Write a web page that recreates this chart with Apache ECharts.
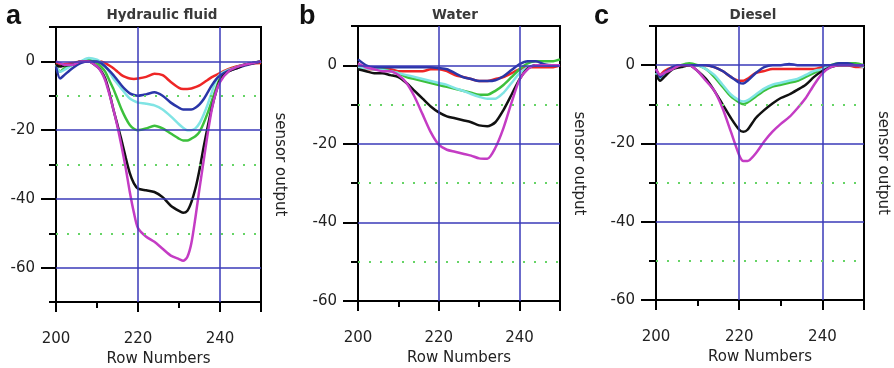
<!DOCTYPE html>
<html><head><meta charset="utf-8">
<script src="https://cdn.jsdelivr.net/npm/echarts@6/dist/echarts.min.js"></script>
<style>html,body{margin:0;padding:0;background:#fff}#c{width:894px;height:368px}</style>
</head><body><div id="c"></div>
<script>
// ---------- data ----------
const panelLetters = ['a', 'b', 'c'];
const panelTitles = ['Hydraulic fluid', 'Water', 'Diesel'];
const xTickLabels = [200, 220, 240];
const yTickLabels = [0, -20, -40, -60];
const xName = 'Row Numbers';
const yName = 'sensor output';
const blueGridY = [0, -20, -40, -60];
const blueGridX = [220, 240];
const greenGridY = [-10, -30, -50];

// Panel a: Hydraulic fluid
const rowsA = [200,201,202,204,206,208,210,211,212,213,214,215,216,217,218,219,220,222,224,226,228,230,231,232,233,234,235,236,237,238,239,240,242,244,246,248,250];
const redA = [-0.5,-1,-0.8,-0.5,0,0,0, 0,-0.5,-1.2,-2,-3,-4,-4.6,-5,-5.1, -5,-4.5,-3.6,-4,-6,-7.7, -8,-8,-7.9,-7.5,-7,-6.2,-5.4,-4.6,-4, -3.4,-2.3,-1.5,-1,-0.6,-0.5];
const blueA = [-1.5,-5,-4,-2,-0.5,0,0, -0.5,-1.5,-2.7,-4,-5.5,-7,-8.3,-9.3,-9.8, -10,-9.6,-9,-10,-12,-13.5, -14,-14,-14,-13.5,-12.5,-11,-9,-7,-5.3, -4.2,-2.8,-2,-1.2,-0.6,0];
const cyanA = [-1,-3,-2.5,-1,0,1,0.5, -0.3,-1.5,-3,-5,-6.5,-8,-9.5,-10.8,-11.5, -12,-12.3,-12.8,-14,-16,-18.3, -19.3,-20,-20,-19.5,-18,-15.5,-12.5,-9,-5.5, -3.8,-2.5,-1.8,-1,-0.5,0];
const greenA = [-1,-3,-2,-1,0,0.5,-0.5, -1.5,-3,-5.5,-8,-11,-14,-16.5,-18.5,-19.6, -20,-19.5,-18.7,-19.5,-21,-22.5, -23,-23,-22.5,-21.8,-20.5,-18,-15,-11.5,-8, -5,-2.8,-1.7,-1,-0.5,0];
const blackA = [-1,-1.5,-1.2,-1,0,0,-1.5, -2.8,-5,-9,-14,-18.5,-23,-28,-32.5,-35.5, -37,-37.5,-38,-39.5,-42,-43.5, -44,-43.5,-41,-37,-31.5,-25,-19,-13.5,-9, -5.5,-3,-2,-1,-0.5,0];
const magentaA = [0,-0.5,-1,-1,0,0,-1.5, -3,-5.5,-9.5,-14,-19,-24.8,-31,-38,-44, -48.5,-51,-52.5,-54.5,-56.5,-57.5, -58,-57,-53,-45.5,-37,-29,-21,-14,-9, -6,-3,-1.7,-1,-0.5,0];

// Panel b: Water
const rowsB = [200,202,204,206,208,210,212,214,216,218,220,222,224,226,228,230,232,234,236,238,240,242,244,246,248,250];
const redB = [0,-1,-1,-1,-1,-1.5,-1.5,-1.5,-1.5,-1,-1,-1.5,-2.5,-3,-3.5,-4,-4,-3.5,-3,-2,-1,-0.5,-0.5,-0.5,-0.5,0];
const blueB = [1.5,0,-0.5,-0.5,-0.5,-0.5,-0.5,-0.5,-0.5,-0.5,-0.7,-1,-2,-3,-3.5,-4,-4,-3.8,-2.8,-1.2,0.3,1,1,0.3,0,0];
const greenB = [0,-0.5,-1,-1,-1.5,-2,-3,-3.5,-4,-4.5,-5,-5.5,-6,-6.5,-7,-7.5,-7.5,-6.5,-5,-3,-1,0.5,1,1,1,1.5];
const cyanB = [-0.5,-0.8,-1,-1.2,-1.5,-2,-2.5,-3,-3.5,-4,-4.5,-5,-5.8,-6.5,-7.3,-8,-8.5,-8.5,-7,-4.5,-2,-0.5,0,0,0,0];
const blackB = [-1,-1.5,-2,-2,-2.5,-3,-4.5,-6.5,-8.5,-10.5,-12,-13,-13.5,-14,-14.5,-15.3,-15.5,-14.5,-11.4,-7.5,-3.5,-0.8,0,0,0,0];
const magentaB = [0.5,-0.5,-1,-1.5,-1.5,-2.5,-4.5,-8,-12.5,-17,-20.2,-21.5,-22,-22.5,-23,-23.7,-23.8,-21,-16,-9.5,-3.6,-1,0,0,0,0];

// Panel c: Diesel
const rowsC = [200,201,202,204,206,208,210,212,214,216,218,220,221,222,224,226,228,230,232,234,236,238,240,242,244,246,248,250];
const redC = [-1,-2.5,-1.5, -0.5,0,0,0,0,-0.5,-1.5,-3,-4, -4, -3.5,-2,-1.5,-1,-1,-1,-1,-1,-1,-0.5,0,0,0,-0.5,-0.5];
const blueC = [-1,-3,-2, -0.5,0,0,0,0,-0.5,-1.5,-3,-4.5, -4.7, -4,-2,-0.5,0,0,0.3,0,0,0,0,0,0.5,0.5,0,0];
const greenC = [-2,-3,-2, -1,0,0.5,0,-1,-3,-5.5,-8,-9.5, -10, -9.5,-8,-6.5,-5.5,-5,-4.5,-4,-3,-2,-1,0,0.5,0.5,0.5,0];
const cyanC = [-2,-3.5,-2.5, -1,0,0,0,-1,-2.5,-5,-7.5,-9, -9.3, -9,-7.5,-6,-5,-4.5,-4,-3.5,-2.5,-1.5,-1,0,0,0,0,-0.5];
const blackC = [-2.5,-4,-3, -1,-0.5,0,-1.5,-3.5,-6.5,-10,-13.5,-16.5, -17, -16.5,-13.5,-11.5,-9.8,-8.4,-7.5,-6.3,-5,-3,-1.5,-0.5,0,0,0,0];
const magentaC = [-1,-2.5,-2, -1,0,0,-1.5,-4,-6.5,-11,-17,-23, -24.5, -24.5,-22.5,-19.5,-17,-15,-13.3,-11,-8.4,-5,-2.1,-0.5,0,0,0,0];

const yMins = [-70, -60, -60];
const yMax = 10;
const xMin = 200, xMax = 250;

// ---------- styling / layout ----------
const grids = [
  {left: 56, top: 27, width: 205, height: 275},
  {left: 358, top: 26, width: 202, height: 275},
  {left: 656, top: 26, width: 208, height: 274}
];
const titleX = [162, 455, 753];
const letterX = [6, 299, 594];
const FONT = 'DejaVu Sans';
const TXT = '#222';
const colors = {red: '#ee2626', green: '#3cc03c', cyan: '#80e4e4', blue: '#2a36a8', black: '#111111', magenta: '#c43cc4'};
const panels = [
  {rows: rowsA, red: redA, green: greenA, cyan: cyanA, blue: blueA, black: blackA, magenta: magentaA},
  {rows: rowsB, red: redB, green: greenB, cyan: cyanB, blue: blueB, black: blackB, magenta: magentaB},
  {rows: rowsC, red: redC, green: greenC, cyan: cyanC, blue: blueC, black: blackC, magenta: magentaC}
];
const order = ['red', 'green', 'cyan', 'blue', 'black', 'magenta'];

const option = {animation: false, backgroundColor: '#fff', grid: [], xAxis: [], yAxis: [], series: [], title: []};

panels.forEach((p, i) => {
  option.grid.push(Object.assign({show: true, borderColor: '#000', borderWidth: 2, backgroundColor: '#fff',
    containLabel: false, outerBoundsMode: 'none'}, grids[i]));
  // main x axis (minor ticks every 10)
  option.xAxis.push({
    gridIndex: i, type: 'value', min: xMin, max: xMax, interval: 10, position: 'bottom',
    axisLine: {onZero: false, lineStyle: {color: '#000', width: 2}},
    axisTick: {length: 6, lineStyle: {color: '#000', width: 2}},
    axisLabel: {margin: 30, fontSize: 15, fontFamily: FONT, color: TXT,
      formatter: v => xTickLabels.indexOf(v) >= 0 ? String(v) : ''},
    splitLine: {show: false},
    name: xName, nameLocation: 'middle', nameGap: 50,
    nameTextStyle: {fontSize: 15, fontFamily: FONT, color: TXT}
  });
  // major x ticks
  option.xAxis.push({
    gridIndex: i, type: 'value', min: xMin, max: xMax, interval: 10, position: 'bottom',
    axisLine: {show: false, onZero: false},
    axisTick: {length: 10, customValues: [200, 220, 240, 250], lineStyle: {color: '#000', width: 2}},
    axisLabel: {show: false}, splitLine: {show: false}
  });
  // main y axis
  option.yAxis.push({
    gridIndex: i, type: 'value', min: yMins[i], max: yMax, interval: 10, position: 'left',
    axisLine: {onZero: false, lineStyle: {color: '#000', width: 2}},
    axisTick: {length: 7, lineStyle: {color: '#000', width: 2}},
    axisLabel: {margin: 21, fontSize: 15, fontFamily: FONT, color: TXT,
      formatter: v => yTickLabels.indexOf(v) >= 0 ? String(v) : ''},
    splitLine: {show: false}
  });
  // major y ticks
  option.yAxis.push({
    gridIndex: i, type: 'value', min: yMins[i], max: yMax, interval: 10, position: 'left',
    axisLine: {show: false, onZero: false},
    axisTick: {length: 15, customValues: yTickLabels, lineStyle: {color: '#000', width: 2}},
    axisLabel: {show: false}, splitLine: {show: false}
  });
  // right-side name axis
  option.yAxis.push({
    gridIndex: i, type: 'value', min: yMins[i], max: yMax, position: 'right',
    axisLine: {show: false, onZero: false}, axisTick: {show: false}, axisLabel: {show: false},
    splitLine: {show: false},
    name: yName, nameLocation: 'middle', nameRotate: -90, nameGap: 11,
    nameTextStyle: {fontSize: 15, fontFamily: FONT, color: TXT}
  });
  const xi = 2 * i, yi = 3 * i;
  // grid lines through markLine
  option.series.push({
    type: 'line', xAxisIndex: xi, yAxisIndex: yi, data: [], z: 1, silent: true,
    markLine: {silent: true, symbol: 'none', label: {show: false}, animation: false,
      lineStyle: {color: '#3a3ab8', width: 1.5, type: 'solid'},
      data: blueGridY.filter(v => v > yMins[i]).map(v => ({yAxis: v})).concat(blueGridX.map(v => ({xAxis: v})))}
  });
  option.series.push({
    type: 'line', xAxisIndex: xi, yAxisIndex: yi, data: [], z: 1, silent: true,
    markLine: {silent: true, symbol: 'none', label: {show: false}, animation: false,
      lineStyle: {color: '#66d466', width: 2, type: [2, 9]},
      data: greenGridY.map(v => ({yAxis: v}))}
  });
  order.forEach(k => {
    option.series.push({
      type: 'line', name: k, xAxisIndex: xi, yAxisIndex: yi, z: 3,
      data: p.rows.map((r, j) => [r, p[k][j]]),
      showSymbol: false, smooth: 0.25, clip: true,
      lineStyle: {color: colors[k], width: 2.5}
    });
  });
  option.title.push({text: panelLetters[i], left: letterX[i], top: 3, padding: 0,
    textStyle: {fontSize: 27, fontWeight: 'bold', fontFamily: 'Liberation Sans', color: '#111'}});
  option.title.push({text: panelTitles[i], left: titleX[i], top: 8, padding: 0, textAlign: 'center',
    textStyle: {fontSize: 13.5, fontWeight: 'bold', fontFamily: FONT, color: '#3a3a3a'}});
});

const chart = echarts.init(document.getElementById('c'), null, {renderer: 'canvas'});
chart.setOption(option);
</script></body></html>
